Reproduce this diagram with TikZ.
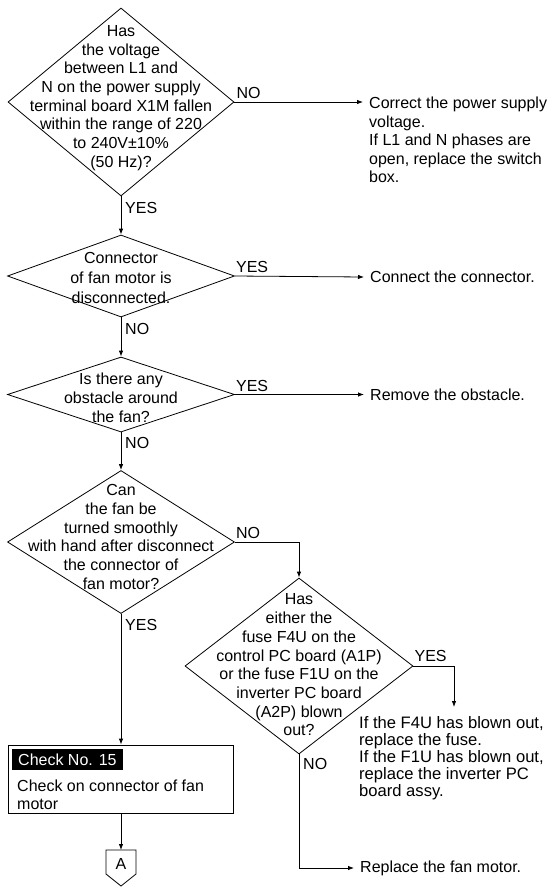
\documentclass[tikz,border=0pt]{standalone}
\usepackage{fontspec}
\setmainfont{Liberation Sans}
\usetikzlibrary{shapes.geometric,arrows.meta}
\begin{document}
\begin{tikzpicture}[x=1pt,y=-1pt,
  every node/.style={font=\fontsize{16}{18.7}\selectfont, inner sep=0pt},
  dia/.style={draw, shape=diamond, line width=0.8pt, inner sep=0pt},
  dtxt/.style={align=center},
  conn/.style={draw, line width=0.8pt},
  arr/.style={conn, -{Latex[length=6pt,width=4.5pt]}},
  rtxt/.style={align=left, inner xsep=6pt},
  lab/.style={anchor=west}
]
\useasboundingbox (0,0) rectangle (548,887);

% diamonds
\node[dia, minimum width=226pt, minimum height=188pt] (d1) at (121,102) {};
\node[dtxt] (d1t) at (121,98) {Has\\the voltage\\between L1 and\\N on the power supply\\terminal board X1M fallen\\within the range of 220\\to 240V±10\%\\(50 Hz)?};

\node[dia, minimum width=227pt, minimum height=82pt] (d2) at (121,276) {};
\node[dtxt, font=\fontsize{16}{19.8}\selectfont] (d2t) at (121,278) {Connector\\of fan motor is\\disconnected.};

\node[dia, minimum width=227pt, minimum height=75pt] (d3) at (121,394.5) {};
\node[dtxt, font=\fontsize{16}{19}\selectfont] (d3t) at (121,398) {Is there any\\obstacle around\\the fan?};

\node[dia, minimum width=227pt, minimum height=143pt] (d4) at (121,542) {};
\node[dtxt] (d4t) at (121,537) {Can\\the fan be\\turned smoothly\\with hand after disconnect\\the connector of\\fan motor?};

\node[dia, minimum width=228pt, minimum height=176pt] (d5) at (299,666) {};
\node[dtxt] (d5t) at (299,665) {Has\\either the\\fuse F4U on the\\control PC board (A1P)\\or the fuse F1U on the\\inverter PC board\\(A2P) blown\\out?};

% right-hand texts
\node[rtxt, anchor=north west, font=\fontsize{16}{18.5}\selectfont] (t1) at (363,97) {Correct the power supply\\voltage.\\If L1 and N phases are\\open, replace the switch\\box.};
\node[rtxt, anchor=west] (t2) at (364,277) {Connect the connector.};
\node[rtxt, anchor=west] (t3) at (364,394.5) {Remove the obstacle.};
\node[rtxt, anchor=north west, inner xsep=0pt, font=\fontsize{16.6}{17}\selectfont] (t4) at (359,716) {If the F4U has blown out,\\replace the fuse.\\If the F1U has blown out,\\replace the inverter PC\\board assy.};
\coordinate (c5) at (454,707);
\node[rtxt, anchor=west] (t5) at (354,868) {Replace the fan motor.};

% check box
\node[draw, line width=0.8pt, minimum width=225pt, minimum height=68pt] (chk) at (121,779) {};
\node[fill=black, text=white, anchor=north west, inner xsep=6pt, minimum height=21pt] (chkno) at (12,749) {Check No. 15};
\node[anchor=north west, align=left, font=\fontsize{16}{17.5}\selectfont] (chkt) at (17,780) {Check on connector of fan\\motor};

% off-page connector A
\coordinate (At) at (121,850);
\draw[line width=0.8pt] (106,850) -- (136,850) -- (136,874) -- (121,886) -- (106,874) -- cycle;
\node (A) at (121,864) {A};

% connectors
\draw[arr] (d1.east) -- (d1.east -| t1.west);
\draw[arr] (d1.south) -- (d2.north);
\draw[arr] (d2.east) -- (t2.west);
\draw[arr] (d2.south) -- (d3.north);
\draw[arr] (d3.east) -- (t3.west);
\draw[arr] (d3.south) -- (d4.north);
\draw[arr] (d4.east) -| (d5.north);
\draw[arr] (d4.south) -- (chk.north);
\draw[arr] (d5.east) -| (c5);
\draw[arr] (d5.south) |- (t5.west);
\draw[arr] (chk.south) -- (At);

% labels
\node[lab] (l1n) at ([xshift=2pt,yshift=9pt]d1.east) {NO};
\node[lab] (l1y) at ([xshift=4pt,yshift=-12pt]d1.south) {YES};
\node[lab] (l2y) at ([xshift=1pt,yshift=9pt]d2.east) {YES};
\node[lab] (l2n) at ([xshift=4pt,yshift=-12pt]d2.south) {NO};
\node[lab] (l3y) at ([xshift=1pt,yshift=9pt]d3.east) {YES};
\node[lab] (l3n) at ([xshift=4pt,yshift=-11pt]d3.south) {NO};
\node[lab] (l4n) at ([xshift=1pt,yshift=9pt]d4.east) {NO};
\node[lab] (l4y) at ([xshift=4pt,yshift=-11pt]d4.south) {YES};
\node[lab] (l5y) at ([xshift=1pt,yshift=10pt]d5.east) {YES};
\node[lab] (l5n) at ([xshift=4pt,yshift=-10pt]d5.south) {NO};
\end{tikzpicture}
\end{document}
